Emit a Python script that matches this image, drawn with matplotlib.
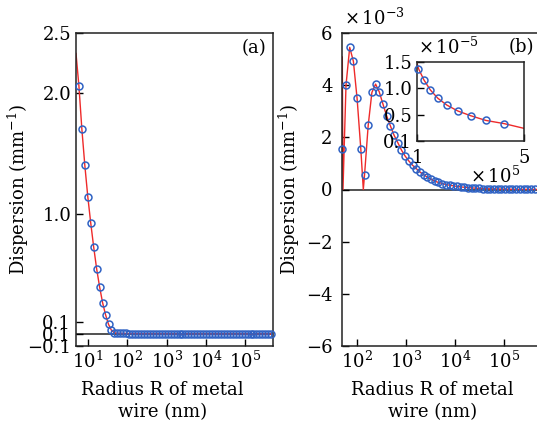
import matplotlib
matplotlib.use("Agg")
import matplotlib.pyplot as plt
import numpy as np

plt.rcParams['font.family'] = ['DejaVu Serif']
plt.rcParams['mathtext.fontset'] = 'dejavuserif'
plt.rcParams['font.size'] = 13

# ---------------- data ----------------
# panel (a): radius (nm) and dispersion (mm^-1)
R_a = [5.93, 7.05, 8.38, 9.96, 11.84, 14.08, 16.73, 19.89, 23.65, 28.11,
       33.42, 39.72, 47.23, 56.14, 66.74, 79.34, 94.3, 112.1, 133.3, 158.5,
       188.4, 223.9, 266.2, 316.5, 376.2, 447.3, 531.7, 632.1, 751.4, 893.2,
       1062, 1262, 1501, 1784, 2121, 2521, 2997, 3563, 4236, 5035,
       5984, 7115, 8458, 10050, 11950, 14210, 16890, 20080, 23870, 28380,
       33730, 40100, 47670, 56670, 67370, 80090, 95190, 113200, 134500, 159900,
       190100, 226000, 268700, 319400, 379700, 451300]
D_a = [2.06, 1.70, 1.40, 1.14, 0.92, 0.72, 0.54, 0.39, 0.26, 0.16,
       0.08, 0.03, 0.01, 0.005, 0.005, 0.004, 0.004, 0.003, 0.003, 0.003,
       0.002, 0.002, 0.002, 0.002, 0.001, 0.001, 0.001, 0.001, 0.001, 0.001,
       0.001, 0.001, 0.0, 0.0, 0.0, 0.0, 0.0, 0.0, 0.0, 0.0,
       0.0, 0.0, 0.0, 0.0, 0.0, 0.0, 0.0, 0.0, 0.0, 0.0,
       0.0, 0.0, 0.0, 0.0, 0.0, 0.0, 0.0, 0.0, 0.0, 0.0,
       0.0, 0.0, 0.0, 0.0, 0.0, 0.0]
line_a_R_start = [5.0]
line_a_D_start = [2.33]

# panel (b): radius (nm) and dispersion (x1e-3 mm^-1)
R_b = [49.3, 58.7, 69.9, 83.2, 99.0, 117.9, 140.4, 167.1, 198.9, 236.7,
       281.8, 335.5, 399.4, 475.4, 565.9, 673.7, 802.0, 954.8, 1137, 1353,
       1611, 1918, 2283, 2718, 3235, 3851, 4585, 5458, 6497, 7735,
       9204, 10958, 13045, 15530, 18487, 22009, 26200, 31190, 37130, 44200,
       52600, 62620, 74560, 88750, 105600, 125800, 149700, 178200, 212200, 252600,
       300600, 357900, 426000]
D_b = [1.54, 4.0, 5.45, 4.91, 3.49, 1.56, 0.54, 2.46, 3.72, 4.04,
       3.74, 3.27, 2.82, 2.44, 2.08, 1.80, 1.51, 1.28, 1.09, 0.93,
       0.80, 0.67, 0.57, 0.47, 0.40, 0.32, 0.27, 0.23, 0.19, 0.165,
       0.14, 0.118, 0.100, 0.085, 0.072, 0.061, 0.052, 0.044, 0.037, 0.031,
       0.026, 0.022, 0.0185, 0.0160, 0.01375, 0.0116, 0.0097, 0.0081, 0.0068, 0.0057,
       0.0048, 0.0039, 0.0033]
# extra vertices of the theory curve (zero crossings / ends)
zero1_R, zero1_D = [49.3, 50.9], [5.08, 0.0]
zero2_R, zero2_D = [132.7], [0.0]
tail_R, tail_D = [100000.0], [0.0148]
end_R, end_D = [500000.0], [0.0024]

a_yticks = [-0.1, 0.0, 0.1, 1.0, 2.0, 2.5]
a_ylabels = ['\u22120.1', '0.1', '0.1', '1.0', '2.0', '2.5']
a_xticks = [1e1, 1e2, 1e3, 1e4, 1e5]
a_xlabels = ['$10^{1}$', '$10^{2}$', '$10^{3}$', '$10^{4}$', '$10^{5}$']
b_yticks = [-6, -4, -2, 0, 2, 4, 6]
b_ylabels = ['\u22126', '\u22124', '\u22122', '0', '2', '4', '6']
b_xticks = [1e2, 1e3, 1e4, 1e5]
b_xlabels = ['$10^{2}$', '$10^{3}$', '$10^{4}$', '$10^{5}$']
in_yticks = [0.0, 0.5, 1.0, 1.5]
in_ylabels = ['0.1', '0.5', '1.0', '1.5']
in_xticks = [1, 5]
in_xlabels = ['1', '5']

RED = '#ee2a2a'
BLUE = '#2f62c4'

W, H = 537, 429
fig = plt.figure(figsize=(W / 100, H / 100), dpi=100)


def box(x0, y0, x1, y1):
    return [x0 / W, 1 - y1 / H, (x1 - x0) / W, (y1 - y0) / H]


def style(ax, pad=3.5):
    for s in ax.spines.values():
        s.set_linewidth(1.1)
        s.set_color('#222222')
    ax.tick_params(direction='in', length=5, width=1.0, pad=pad, which='major')
    ax.tick_params(which='minor', length=0)


# ---------------- panel (a) ----------------
axa = fig.add_axes(box(76, 33, 273, 346))
axa.set_xscale('log')
axa.axhline(0, color='#222222', lw=1.1, zorder=1)
axa.plot(line_a_R_start + R_a, line_a_D_start + D_a, color=RED, lw=1.0, zorder=2)
axa.plot(R_a, D_a, 'o', ms=5, mfc='none', mec=BLUE, mew=1.1, zorder=3, clip_on=False)
axa.set_xlim(5, 5e5)
axa.set_ylim(-0.1, 2.5)
axa.set_yticks(a_yticks)
axa.set_yticklabels(a_ylabels)
axa.set_xticks(a_xticks)
axa.set_xticklabels(a_xlabels)
axa.xaxis.set_minor_locator(matplotlib.ticker.NullLocator())
style(axa)
axa.set_ylabel('Dispersion (mm$^{-1}$)')
axa.yaxis.set_label_coords(-0.228, 0.5)
axa.set_xlabel('Radius R of metal\nwire (nm)', linespacing=1.3)
axa.xaxis.set_label_coords(0.44, -0.112)
axa.xaxis.label.set_va('top')
axa.text(0.905, 0.952, '(a)', transform=axa.transAxes, ha='center', va='center')

# ---------------- panel (b) ----------------
axb = fig.add_axes(box(342.3, 33, 538, 346))
axb.set_xscale('log')
axb.axhline(0, color='#222222', lw=1.1, zorder=1)
line_b_R = zero1_R + R_b[1:6] + zero2_R + R_b[6:44] + tail_R + R_b[44:] + end_R
line_b_D = zero1_D + D_b[1:6] + zero2_D + D_b[6:44] + tail_D + D_b[44:] + end_D
axb.plot(line_b_R, line_b_D, color=RED, lw=1.0, zorder=2)
axb.plot(R_b, D_b, 'o', ms=5, mfc='none', mec=BLUE, mew=1.1, zorder=3, clip_on=False)
axb.set_xlim(49.3, 5e5)
axb.set_ylim(-6, 6)
axb.set_yticks(b_yticks)
axb.set_yticklabels(b_ylabels)
axb.set_xticks(b_xticks)
axb.set_xticklabels(b_xlabels)
axb.xaxis.set_minor_locator(matplotlib.ticker.NullLocator())
style(axb, pad=3.5)
axb.tick_params(axis='y', pad=7)
axb.spines['right'].set_visible(False)
axb.set_ylabel('Dispersion (mm$^{-1}$)')
axb.yaxis.set_label_coords(-0.206, 0.5)
axb.set_xlabel('Radius R of metal\nwire (nm)', linespacing=1.3)
axb.xaxis.set_label_coords(0.461, -0.112)
axb.xaxis.label.set_va('top')
fig.text(344 / W, 1 - 25 / H, r'$\times\,10^{-3}$', ha='left', va='baseline')
fig.text(521 / W, 1 - 47 / H, '(b)', ha='center', va='center')

# ---------------- inset ----------------
axi = fig.add_axes(box(417, 62, 524, 141))
axi.set_facecolor('white')
in_line_R = [r / 1e5 for r in tail_R + R_b[44:] + end_R]
in_line_D = [d * 100 for d in tail_D + D_b[44:] + end_D]
axi.plot(in_line_R, in_line_D, color=RED, lw=1.0, zorder=2)
axi.plot([r / 1e5 for r in R_b[44:]], [d * 100 for d in D_b[44:]], 'o', ms=5,
         mfc='none', mec=BLUE, mew=1.1, zorder=3, clip_on=False)
axi.set_xlim(1, 5)
axi.set_ylim(0, 1.5)
axi.set_xticks(in_xticks)
axi.set_xticklabels(in_xlabels)
axi.set_yticks(in_yticks)
axi.set_yticklabels(in_ylabels)
style(axi)
axi.tick_params(axis='x', pad=6)
fig.text(418 / W, 1 - 54 / H, r'$\times\,10^{-5}$', ha='left', va='baseline')
fig.text(470 / W, 1 - 183 / H, r'$\times\,10^{5}$', ha='left', va='baseline')

fig.savefig('out.png', dpi=100)
